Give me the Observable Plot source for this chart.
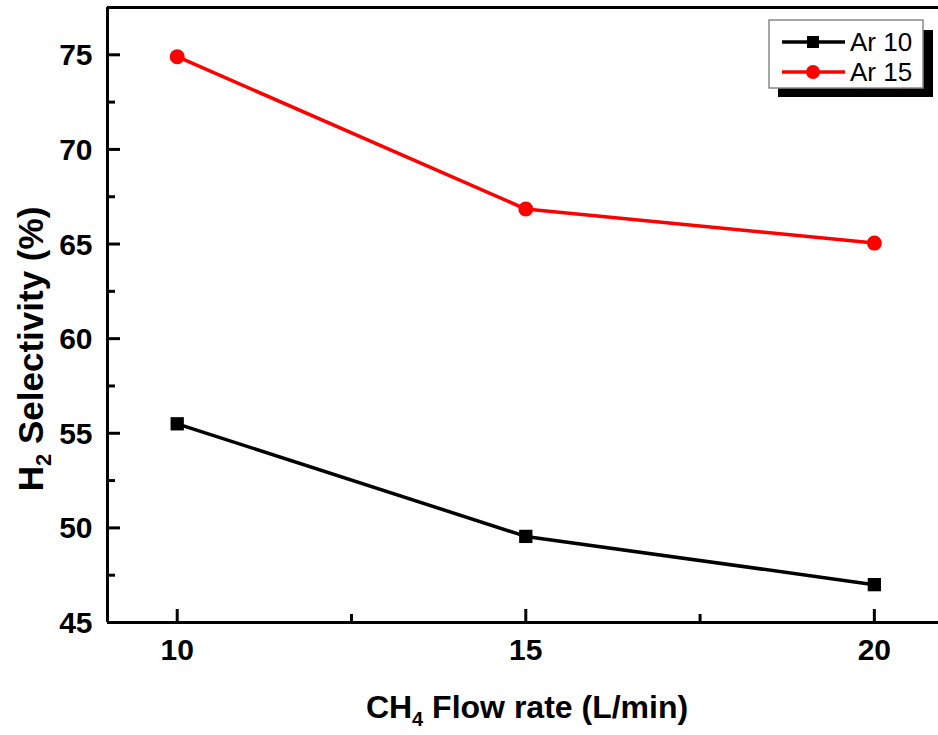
<!DOCTYPE html>
<html><head><meta charset="utf-8">
<script src="https://cdn.jsdelivr.net/npm/d3@7"></script>
<script src="https://cdn.jsdelivr.net/npm/@observablehq/plot@0.6"></script>
<style>body{margin:0;background:#fff;overflow:hidden}#chart{position:relative;width:938px;height:735px}</style>
</head><body><div id="chart"></div>
<script>
const flowRates = [10, 15, 20];
const ar10 = [55.5, 49.55, 47.0];
const ar15 = [74.9, 66.85, 65.05];
const seriesNames = ["Ar 10", "Ar 15"];
const seriesColors = ["#000000", "#ff0000"];
const yTicks = [45, 50, 55, 60, 65, 70, 75];
const yMinor = [47.5, 52.5, 57.5, 62.5, 67.5, 72.5];
const xTicks = [10, 15, 20];
const xMinor = [12.5, 17.5];

const rows = [];
flowRates.forEach((f, i) => {
  rows.push({x: f, y: ar10[i], s: seriesNames[0]});
  rows.push({x: f, y: ar15[i], s: seriesNames[1]});
});
const r10 = rows.filter(d => d.s === "Ar 10");
const r15 = rows.filter(d => d.s === "Ar 15");

const W = 938, H = 735, mL = 107, mT = 7, mB = 113, mR = 0;
const plotW = W - mL - mR, plotH = H - mT - mB;
const font = "'Liberation Sans', Arial, sans-serif";

const chart = Plot.plot({
  width: W, height: H,
  marginLeft: mL, marginTop: mT, marginBottom: mB, marginRight: mR,
  style: {fontFamily: font, background: "#fff", overflow: "visible"},
  x: {domain: [9, 20.92], axis: null},
  y: {domain: [45, 77.5], axis: null},
  marks: [
    Plot.ruleY([77.5], {stroke: "#000", strokeWidth: 3}),
    Plot.ruleX([9], {stroke: "#000", strokeWidth: 3}),
    Plot.ruleY([45], {stroke: "#000", strokeWidth: 3}),
    Plot.tickY(yTicks, {y: d => d, stroke: "#000", strokeWidth: 3, insetRight: plotW - 13}),
    Plot.tickY(yMinor, {y: d => d, stroke: "#000", strokeWidth: 3, insetRight: plotW - 8}),
    Plot.tickX(xTicks, {x: d => d, stroke: "#000", strokeWidth: 3, insetTop: plotH - 13}),
    Plot.tickX(xMinor, {x: d => d, stroke: "#000", strokeWidth: 3, insetTop: plotH - 8}),
    Plot.text(yTicks, {x: 9, y: d => d, text: d => String(d), textAnchor: "end", dx: -15, dy: 1, fontSize: 30, fontWeight: "bold", fill: "#000"}),
    Plot.text(xTicks, {x: d => d, y: 45, text: d => String(d), dy: 28, fontSize: 30, fontWeight: "bold", fill: "#000"}),
    Plot.line(r10, {x: "x", y: "y", stroke: seriesColors[0], strokeWidth: 3.5}),
    Plot.line(r15, {x: "x", y: "y", stroke: seriesColors[1], strokeWidth: 3.5}),
    Plot.dot(r10, {x: "x", y: "y", symbol: "square", r: 7.5, fill: seriesColors[0], stroke: "none"}),
    Plot.dot(r15, {x: "x", y: "y", symbol: "circle", r: 7.5, fill: seriesColors[1], stroke: "none"})
  ]
});
document.getElementById("chart").appendChild(chart);

const svg = d3.select(chart);
// axis titles
const xt = svg.append("text").attr("x", 527).attr("y", 718).attr("text-anchor", "middle")
  .attr("font-family", font).attr("font-size", 32).attr("font-weight", "bold").attr("fill", "#000");
xt.append("tspan").text("CH");
xt.append("tspan").attr("font-size", 20).attr("dy", 8).text("4");
xt.append("tspan").attr("dy", -8).text(" Flow rate (L/min)");

const yt = svg.append("text").attr("transform", "translate(43,349) rotate(-90)").attr("text-anchor", "middle")
  .attr("font-family", font).attr("font-size", 35).attr("font-weight", "bold").attr("fill", "#000");
yt.append("tspan").text("H");
yt.append("tspan").attr("font-size", 22).attr("dy", 8).text("2");
yt.append("tspan").attr("dy", -8).text(" Selectivity (%)");

// legend
const lg = svg.append("g").attr("text-anchor", "start");
lg.append("rect").attr("x", 778).attr("y", 30).attr("width", 155).attr("height", 67).attr("fill", "#000");
lg.append("rect").attr("x", 769).attr("y", 20).attr("width", 154).attr("height", 68).attr("fill", "#fff").attr("stroke", "#888").attr("stroke-width", 1.5);
const ly = [42, 72];
seriesNames.forEach((n, i) => {
  lg.append("line").attr("x1", 782).attr("x2", 845).attr("y1", ly[i]).attr("y2", ly[i]).attr("stroke", seriesColors[i]).attr("stroke-width", 3.5);
  if (i === 0) lg.append("rect").attr("x", 807).attr("y", ly[i] - 6).attr("width", 12).attr("height", 12).attr("fill", seriesColors[i]);
  else lg.append("circle").attr("cx", 813).attr("cy", ly[i]).attr("r", 7).attr("fill", seriesColors[i]);
  lg.append("text").attr("x", 850).attr("y", ly[i] + 9).attr("text-anchor", "start").attr("font-family", font).attr("font-size", 26).attr("fill", "#000").text(n);
});
</script></body></html>
